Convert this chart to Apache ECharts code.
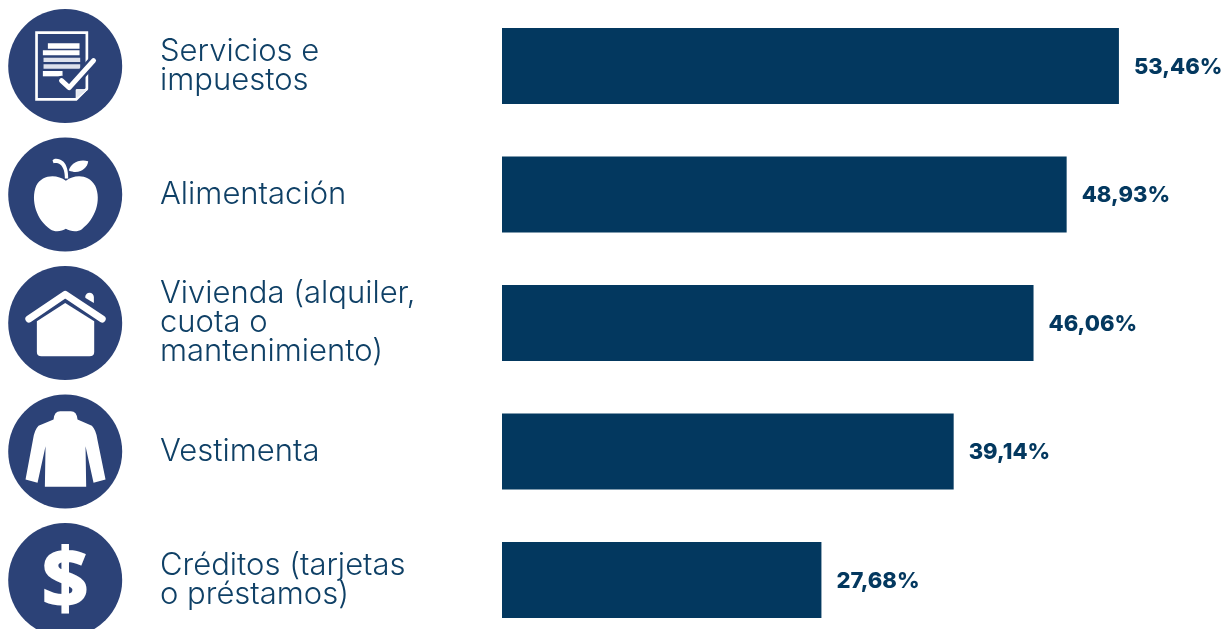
<!DOCTYPE html>
<html><head><meta charset="utf-8">
<style>html,body{margin:0;padding:0;background:#fff}#c{width:1224px;height:629px}</style>
<script src="https://cdn.jsdelivr.net/npm/echarts@6/dist/echarts.min.js"></script>
</head><body><div id="c"></div>
<script>
const categories = ['Servicios e\nimpuestos','Alimentación','Vivienda (alquiler,\ncuota o\nmantenimiento)','Vestimenta','Créditos (tarjetas\no préstamos)'];
const values = [53.46,48.93,46.06,39.14,27.68];
const valueLabels = ['53,46%','48,93%','46,06%','39,14%','27,68%'];

const NAVY='#03385f', BADGE='#2c4277', TEXT='#0f4066';
function p(d,extra){return {type:'path',shape:{pathData:d},style:Object.assign({fill:'#fff'},extra||{})};}
function sl(d,w,col){return {type:'path',shape:{pathData:d},style:{fill:'none',stroke:col||'#fff',lineWidth:w,lineCap:'round',lineJoin:'round'}};}
function bar(x1,x2,y1,y2){return `M${x1} ${y1}H${x2}V${y2}H${x1}Z`;}
const icons=[
 {oy:197,parts:[
  {type:'path',shape:{pathData:'M109 97H260V265L228 297H109Z'},style:{fill:'none',stroke:'#fff',lineWidth:8,lineJoin:'miter'}},
  p('M228 296V268H262Z',{fill:'#e3e7f0',stroke:'#fff',lineWidth:3}),
  p(bar(143,238,129,145)),p(bar(128,238,150,165)),
  p(bar(130,240,172,185),{fill:'#dde1ec'}),p(bar(130,240,192,205),{fill:'#dde1ec'}),
  p(bar(128,187,212,228)),
  sl('M184 241L207 262L280 181',30,BADGE),sl('M184 241L207 262L280 181',15)
 ]},
 {oy:582,parts:[
  p('M157 480C160 472 178 472 190 484C200 495 204 512 204 534L194 534C194 515 190 500 180 492C172 486 165 488 160 488Z'),
  p('M206 510C210 490 235 474 264 482C262 502 238 524 206 510Z'),
  p('M197 541C170 520 125 522 108 556C90 600 110 660 150 686C165 696 185 692 197 685C210 692 230 696 245 686C285 656 305 600 285 556C265 520 222 522 197 541Z')
 ]},
 {oy:188,parts:[
  p('M255 110A13 13 0 0 1 281 110L281 128L256 113Z'),
  sl('M86 176L195 102L306 176',21),
  p('M110 183L195 128L282 183V275Q282 288 268 288H124Q110 288 110 275Z')
 ]},
 {oy:574,parts:[
  p('M160 478Q162 453 180 453H212Q230 453 232 478L275 497Q288 510 292 540L316 658L280 668L256 558L258 680H134L136 558L112 668L76 658L98 540Q102 510 115 497Z')
 ]},
 {oy:960,parts:[],glyph:'$'}
];

const chart=echarts.init(document.getElementById('c'),null,{renderer:'canvas'});
chart.setOption({
 animation:false,
 backgroundColor:'#fff',
 grid:{left:502,top:1.75,width:692.4,height:642.5,containLabel:false,outerBoundsMode:'none'},
 xAxis:{type:'value',min:0,max:60,show:false},
 yAxis:{type:'category',inverse:true,data:categories,
  axisLine:{show:false},axisTick:{show:false},splitLine:{show:false},
  axisLabel:{margin:342,align:'left',color:TEXT,fontFamily:'Inter',fontSize:31,lineHeight:29,fontWeight:300,padding:[5,0,0,0]}},
 series:[
  {type:'bar',data:values,barWidth:76,itemStyle:{color:NAVY},
   label:{show:true,position:'right',distance:15,offset:[0,1],color:NAVY,fontFamily:'Inter',fontWeight:800,fontSize:22,
     formatter:o=>valueLabels[o.dataIndex]}},
  {type:'custom',clip:false,silent:true,data:categories.map((c,i)=>[0,i]),encode:{x:0,y:1},
   renderItem(params,api){
    const i=api.value(1), cy=api.coord([0,i])[1], ic=icons[i], cx=65.2;
    const children=[{type:'circle',shape:{cx:cx,cy:cy,r:57},style:{fill:BADGE}},
      {type:'group',x:cx-195/3,y:cy-ic.oy/3,scaleX:1/3,scaleY:1/3,children:ic.parts}];
    if(ic.glyph)children.push({type:'text',x:cx,y:cy+5,style:{text:ic.glyph,fill:'#fff',stroke:'#fff',lineWidth:2,fontFamily:'Open Sans',fontWeight:'bold',fontSize:82,align:'center',verticalAlign:'middle'}});
    return {type:'group',children};
   }}
 ]
});
</script></body></html>
